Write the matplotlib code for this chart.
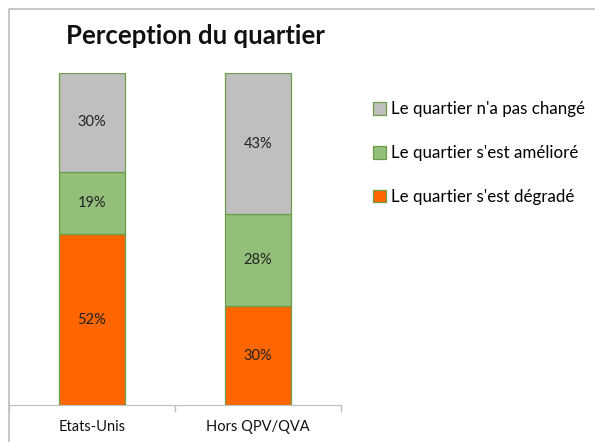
import matplotlib
import numpy as np

matplotlib.use("Agg")
import matplotlib.pyplot as plt
from matplotlib.patches import Rectangle

categories = ["Etats-Unis", "Hors QPV/QVA"]
series_labels = [
    "Le quartier s'est dégradé",
    "Le quartier s'est amélioré",
    "Le quartier n'a pas changé",
]
degrade = [52, 30]
ameliore = [19, 28]
inchange = [30, 43]

COLORS = ["#FF6600", "#93BF7A", "#BFBFBF"]
EDGE = "#6A9E4A"

plt.rcParams["font.family"] = ["Lato", "DejaVu Sans"]

W, H = 595, 442
fig = plt.figure(figsize=(W / 100, H / 100), dpi=100)

# chart border (partly cropped in the reference)
fig.add_artist(Rectangle((9 / W, -0.1), 1.2, (H - 9) / H + 0.1,
                         transform=fig.transFigure, fill=False,
                         edgecolor="#BFBFBF", linewidth=1.2))

ax = fig.add_axes([9 / W, (H - 405) / H, (341 - 9) / W, (405 - 73) / H])

x = np.arange(len(categories))
bottom = np.zeros(len(categories))
for vals, color, label in zip([degrade, ameliore, inchange], COLORS, series_labels):
    ax.bar(x, vals, width=0.40, bottom=bottom, color=color,
           edgecolor=EDGE, linewidth=0.9, label=label)
    for xi, b, v in zip(x, bottom, vals):
        ax.text(xi, b + v / 2, f"{v}%", ha="center", va="center",
                fontsize=10.5, color="#222222")
    bottom += vals

ax.set_xlim(-0.5, 1.5)
ax.set_ylim(0, 101)
ax.set_yticks([])
for s in ["top", "right", "left"]:
    ax.spines[s].set_visible(False)
ax.spines["bottom"].set_color("#BFBFBF")
ax.set_xticks([-0.5, 0.5, 1.5])
ax.set_xticklabels([])
ax.tick_params(axis="x", length=5, color="#BFBFBF", width=1)
for xi, cat in zip(x, categories):
    ax.text(xi, -0.045, cat, transform=ax.get_xaxis_transform(),
            ha="center", va="top", fontsize=10.5, color="#111111")

fig.text(66 / W, 1 - 36 / H, "Perception du quartier", fontsize=18.5,
         fontweight="bold", ha="left", va="center", color="#111111")

handles, labels = ax.get_legend_handles_labels()
leg = fig.legend(handles[::-1], labels[::-1], loc="upper left",
                 bbox_to_anchor=(358 / W, 1 - 86 / H), frameon=False,
                 fontsize=12.2, handlelength=0.75, handleheight=0.75,
                 handletextpad=0.3, labelspacing=1.65)

fig.savefig("out.png", dpi=100)
